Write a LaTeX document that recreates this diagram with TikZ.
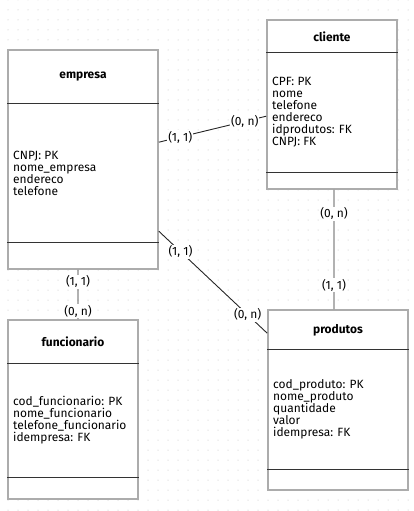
\documentclass[tikz,border=0pt]{standalone}
\usepackage{fontspec}
\setmainfont{Fira Sans}
\usetikzlibrary{positioning, calc}

\begin{document}
\begin{tikzpicture}[
				x=1bp, y=-1bp,
				every node/.style={font=\fontsize{12}{12}\selectfont},
				entbox/.style={draw=gray!65, line width=1.6bp, fill=white, inner sep=0pt},
				sepline/.style={draw=black!80, line width=0.9bp},
				title/.style={font=\fontsize{12}{12}\selectfont\bfseries},
				attrs/.style={anchor=west, align=left, inner sep=0pt},
				relline/.style={draw=black!85, line width=0.9bp},
				card/.style={fill=white, inner sep=1bp}]
				
				\useasboundingbox (0,0) rectangle (413,511);
				
				\begin{scope} % dotted grid in the background
					\foreach \gx in {8,18,...,408}
						\foreach \gy in {0,10,...,510}
							\fill[gray!55] (\gx,\gy) circle (0.5bp);
				\end{scope}
				
				% empresa
				\node[entbox, minimum width=150bp, minimum height=219bp] (empresa) at (83,159.5) {};
				\draw[sepline] ([yshift=-54bp]empresa.north west) -- ([yshift=-54bp]empresa.north east);
				\draw[sepline] ([yshift=27bp]empresa.south west) -- ([yshift=27bp]empresa.south east);
				\node[title] (empresa title) at (83,77) {empresa};
				\node[attrs] (empresa attrs) at (13,173) {CNPJ: PK\\nome\_empresa\\endereco\\telefone};
				
				% cliente
				\node[entbox, minimum width=130bp, minimum height=169bp] (cliente) at (332,104.5) {};
				\draw[sepline] ([yshift=-33bp]cliente.north west) -- ([yshift=-33bp]cliente.north east);
				\draw[sepline] ([yshift=17bp]cliente.south west) -- ([yshift=17bp]cliente.south east);
				\node[title] (cliente title) at (332,36.5) {cliente};
				\node[attrs] (cliente attrs) at (272,112.5) {CPF: PK\\nome\\telefone\\endereco\\idprodutos: FK\\CNPJ: FK};
				
				% funcionario
				\node[entbox, minimum width=130bp, minimum height=179bp] (funcionario) at (73,409.5) {};
				\draw[sepline] ([yshift=-44bp]funcionario.north west) -- ([yshift=-44bp]funcionario.north east);
				\draw[sepline] ([yshift=22bp]funcionario.south west) -- ([yshift=22bp]funcionario.south east);
				\node[title] (funcionario title) at (73,342) {funcionario};
				\node[attrs] (funcionario attrs) at (13,420.5) {cod\_funcionario: PK\\nome\_funcionario\\telefone\_funcionario\\idempresa: FK};
				
				% produtos
				\node[entbox, minimum width=140bp, minimum height=180bp] (produtos) at (338,400) {};
				\draw[sepline] ([yshift=-40bp]produtos.north west) -- ([yshift=-40bp]produtos.north east);
				\draw[sepline] ([yshift=21bp]produtos.south west) -- ([yshift=21bp]produtos.south east);
				\node[title] (produtos title) at (338,330) {produtos};
				\node[attrs] (produtos attrs) at (273,409.5) {cod\_produto: PK\\nome\_produto\\quantidade\\valor\\idempresa: FK};
				
				% relationships
				\draw[relline] ([yshift=-93bp]empresa.north east) -- node[card, pos=0.2] {(1, 1)} node[card, pos=0.8] {(0, n)} ([yshift=-97bp]cliente.north west);
				\draw[relline] ([yshift=-182bp]empresa.north east) -- node[card, pos=0.2] {(1, 1)} node[card, pos=0.82] {(0, n)} ([yshift=-24bp]produtos.north west);
				\draw[relline] ([xshift=2bp]cliente.south) -- node[card, pos=0.2] {(0, n)} node[card, pos=0.8] {(1, 1)} ([xshift=-4bp]produtos.north);
				\draw[relline] ([xshift=-5bp]empresa.south) -- node[card, pos=0.24] {(1, 1)} node[card, pos=0.84] {(0, n)} ([xshift=5bp]funcionario.north);
			\end{tikzpicture}
\end{document}
